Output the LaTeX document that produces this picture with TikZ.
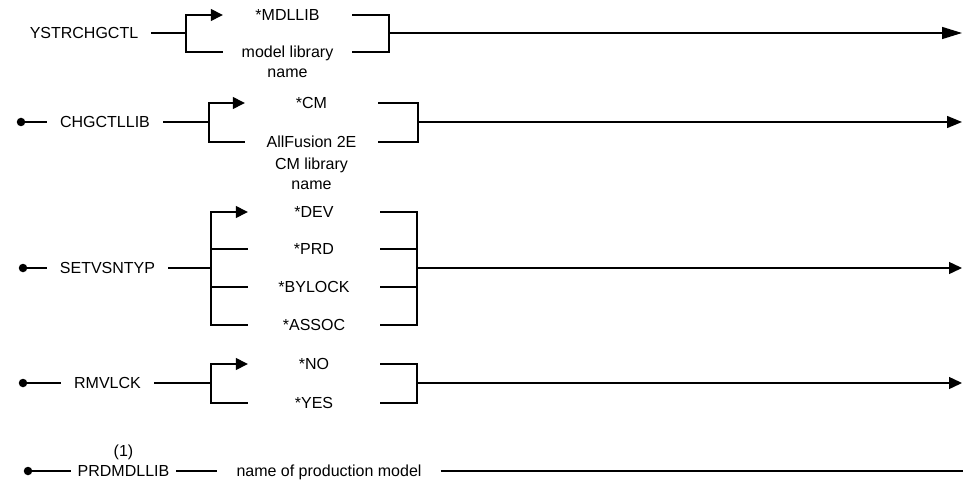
\documentclass[tikz,border=0pt]{standalone}
\usepackage{fontspec}
\setmainfont{Liberation Sans}
\usetikzlibrary{arrows.meta,positioning}
\tikzset{
  kw/.style={inner xsep=13pt, inner ysep=0pt, text height=11.5pt, text depth=0pt},
  opt/.style={minimum width=#1, inner sep=0pt, text height=11.5pt, text depth=0pt},
  sub/.style={inner sep=0pt, align=center},
  dot/.style={circle, fill=black, inner sep=0pt, minimum size=8.5pt},
  rail/.style={line width=1.4pt, draw=black},
  flow/.style={rail, -{Triangle[length=12pt,width=12pt]}},
  endflow/.style={rail, -{Triangle[length=#1,width=12pt]}},
}

\begin{document}
\begin{tikzpicture}[x=1pt, y=-1pt, font=\fontsize{16}{20}\selectfont]
\useasboundingbox (0,0) rectangle (966,481);

% ---------- YSTRCHGCTL ---------------------------------------------------
\node[kw] (ystr) at (84,33) {YSTRCHGCTL};
\coordinate (r1l) at (186,33);
\coordinate (r1r) at (389,33);
\coordinate (r1e) at (962,33);
\node[opt=129pt] (mdl) at (287.5,15) {*MDLLIB};
\node[opt=129pt, label={[sub, label distance=10.5pt]below:name}]
   (mdlnm) at (287.5,52) {model library};
\draw[rail] (ystr) -- (r1l);
\draw[flow] (r1l) |- (mdl);
\draw[rail] (r1l) |- (mdlnm);
\foreach \o in {mdl,mdlnm}{
  \draw[rail] (\o) -| (r1r);}
\draw[endflow=20pt] (r1r) -- (r1e);

% ---------- CHGCTLLIB ----------------------------------------------------
\node[dot] (d2) at (21,122) {};
\node[kw] (chg) at (105,122) {CHGCTLLIB};
\coordinate (r2l) at (209,122);
\coordinate (r2r) at (418,122);
\coordinate (r2e) at (962,122);
\node[opt=133pt] (cm) at (311.5,103) {*CM};
\node[opt=133pt, label={[sub, label distance=9.5pt]below:CM library\\name}]
   (afn) at (311.5,142) {AllFusion 2E};
\draw[rail] (d2) -- (chg);
\draw[rail] (chg) -- (r2l);
\draw[flow] (r2l) |- (cm);
\draw[rail] (r2l) |- (afn);
\foreach \o in {cm,afn}{
  \draw[rail] (\o) -| (r2r);}
\draw[endflow=15pt] (r2r) -- (r2e);

% ---------- SETVSNTYP ----------------------------------------------------
\node[dot] (d3) at (23,268) {};
\node[kw] (svt) at (107.5,268) {SETVSNTYP};
\coordinate (r3l) at (211,268);
\coordinate (r3r) at (417,268);
\coordinate (r3e) at (962,268);
\foreach \n/\t/\y in {dev/*DEV/212, prd/*PRD/249, byl/*BYLOCK/287, aso/*ASSOC/325}{
  \node[opt=132pt] (\n) at (314,\y) {\t};
  \draw[rail] (\n) -| (r3r);}
\draw[rail] (d3) -- (svt);
\draw[rail] (svt) -- (r3l);
\draw[flow] (r3l) |- (dev);
\foreach \o in {prd,byl,aso}{
  \draw[rail] (r3l) |- (\o);}
\draw[endflow=13pt] (r3r) -- (r3e);

% ---------- RMVLCK -------------------------------------------------------
\node[dot] (d4) at (23,383) {};
\node[kw] (rmv) at (107.5,383) {RMVLCK};
\coordinate (r4l) at (211,383);
\coordinate (r4r) at (417,383);
\coordinate (r4e) at (962,383);
\node[opt=132pt] (no) at (314,364) {*NO};
\node[opt=132pt] (yes) at (314,403) {*YES};
\draw[rail] (d4) -- (rmv);
\draw[rail] (rmv) -- (r4l);
\draw[flow] (r4l) |- (no);
\draw[rail] (r4l) |- (yes);
\foreach \o in {no,yes}{
  \draw[rail] (\o) -| (r4r);}
\draw[endflow=13pt] (r4r) -- (r4e);

% ---------- PRDMDLLIB ----------------------------------------------------
\node[dot] (d5) at (28,471) {};
\node[kw, inner xsep=7pt, label={[sub, label distance=4.75pt]above:(1)}]
   (pml) at (123.5,471) {PRDMDLLIB};
\node[kw, inner xsep=19pt] (pnm) at (329,471) {name of production model};
\coordinate (r5e) at (963,471);
\draw[rail] (d5) -- (pml);
\draw[rail] (pml) -- (pnm);
\draw[rail] (pnm) -- (r5e);
\end{tikzpicture}
\end{document}
